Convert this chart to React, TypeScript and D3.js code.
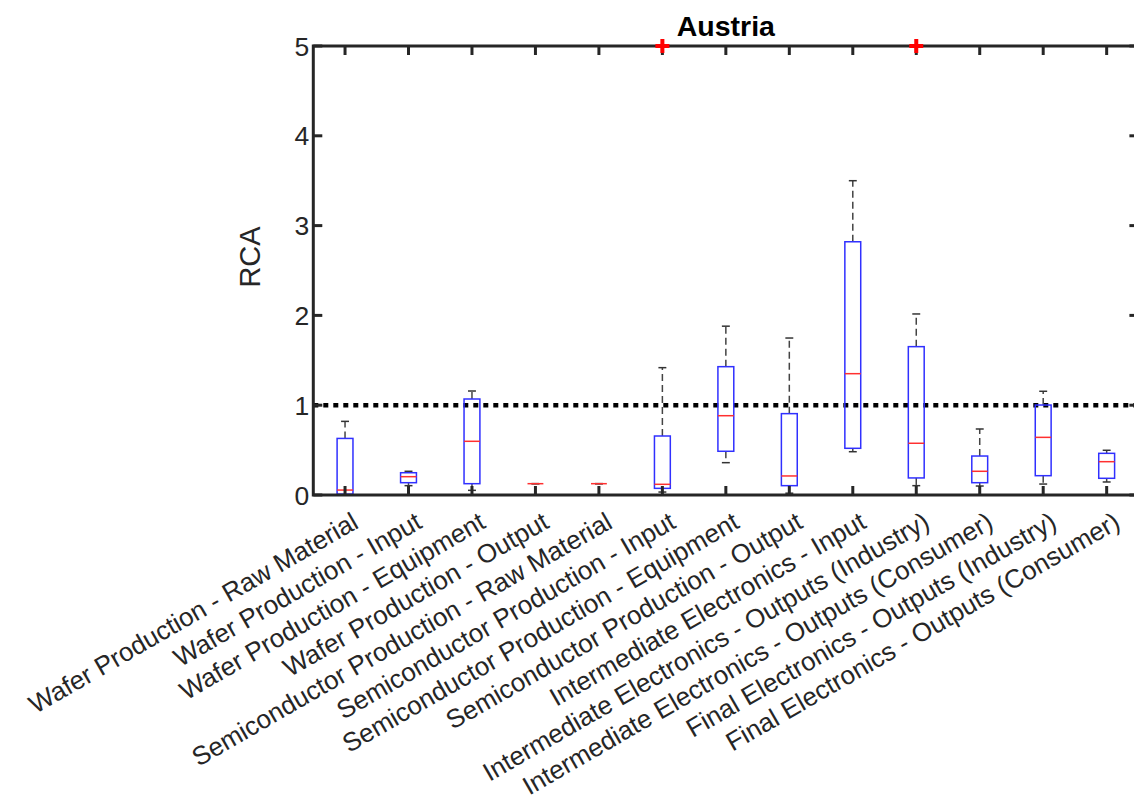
import React from "react";
import * as d3 from "d3";

const categories = [
  "Wafer Production - Raw Material",
  "Wafer Production - Input",
  "Wafer Production - Equipment",
  "Wafer Production - Output",
  "Semiconductor Production - Raw Material",
  "Semiconductor Production - Input",
  "Semiconductor Production - Equipment",
  "Semiconductor Production - Output",
  "Intermediate Electronics - Input",
  "Intermediate Electronics - Outputs (Industry)",
  "Intermediate Electronics - Outputs (Consumer)",
  "Final Electronics - Outputs (Industry)",
  "Final Electronics - Outputs (Consumer)",
];
const lowerWhisker = [0.0, 0.104, 0.052, 0.126, 0.126, 0.033, 0.36, 0.02, 0.482, 0.104, 0.1, 0.122, 0.145];
const q1 = [0.01, 0.137, 0.126, 0.126, 0.126, 0.074, 0.487, 0.104, 0.52, 0.19, 0.137, 0.215, 0.186];
const medians = [0.055, 0.204, 0.598, 0.126, 0.126, 0.119, 0.883, 0.212, 1.351, 0.576, 0.264, 0.642, 0.371];
const q3 = [0.63, 0.248, 1.069, 0.126, 0.126, 0.657, 1.429, 0.906, 2.82, 1.652, 0.434, 1.002, 0.464];
const upperWhisker = [0.82, 0.264, 1.158, 0.126, 0.126, 1.418, 1.88, 1.748, 3.5, 2.016, 0.735, 1.155, 0.498];
const outliers: [number, number][] = [[6, 5], [10, 5]];
const yTicks = [0, 1, 2, 3, 4, 5];
const refLine = 1;
const title = "Austria";
const yLabel = "RCA";

export default function App() {
  const W = 1134, H = 801;
  const x = d3.scaleLinear().domain([0.5, 13.5]).range([313.3, 1138.4]);
  const y = d3.scaleLinear().domain([0, 5]).range([495, 46]);
  const boxW = x(1.25) - x(1);
  const capW = boxW / 2;
  const axisColor = "#262626";
  const font = "'Liberation Sans', Arial, Helvetica, sans-serif";
  const tickLen = 9;
  const idx = d3.range(1, categories.length + 1);

  return (
    <svg width={W} height={H} style={{ position: "absolute", left: 0, top: 0, background: "#fff" }}>
      {/* reference line */}
      <line x1={x(0.5)} x2={x(13.5)} y1={y(refLine)} y2={y(refLine)} stroke="#000" strokeWidth={4.5} strokeDasharray="5 5" />
      {/* boxes */}
      {idx.map((c, i) => {
        const cx = x(c);
        return (
          <g key={c}>
            <line x1={cx} x2={cx} y1={y(q3[i])} y2={y(upperWhisker[i])} stroke="#444" strokeWidth={1.5} strokeDasharray="7 4" />
            <line x1={cx} x2={cx} y1={y(q1[i])} y2={y(lowerWhisker[i])} stroke="#444" strokeWidth={1.5} strokeDasharray="7 4" />
            <line x1={cx - capW / 2} x2={cx + capW / 2} y1={y(upperWhisker[i])} y2={y(upperWhisker[i])} stroke="#333" strokeWidth={1.5} />
            <line x1={cx - capW / 2} x2={cx + capW / 2} y1={y(lowerWhisker[i])} y2={y(lowerWhisker[i])} stroke="#333" strokeWidth={1.5} />
            <rect x={cx - boxW / 2} width={boxW} y={y(q3[i])} height={Math.max(0, y(q1[i]) - y(q3[i]))} fill="none" stroke="#3030ff" strokeWidth={1.5} />
            <line x1={cx - boxW / 2} x2={cx + boxW / 2} y1={y(medians[i])} y2={y(medians[i])} stroke="#ff3030" strokeWidth={1.5} />
          </g>
        );
      })}
      {/* axes box */}
      <rect x={x(0.5)} y={y(5)} width={x(13.5) - x(0.5)} height={y(0) - y(5)} fill="none" stroke={axisColor} strokeWidth={3} />
      {/* x ticks */}
      {idx.map((c) => (
        <g key={"xt" + c}>
          <line x1={x(c)} x2={x(c)} y1={y(0)} y2={y(0) - tickLen} stroke={axisColor} strokeWidth={3} />
          <line x1={x(c)} x2={x(c)} y1={y(5)} y2={y(5) + tickLen} stroke={axisColor} strokeWidth={3} />
        </g>
      ))}
      {/* y ticks */}
      {yTicks.map((t) => (
        <g key={"yt" + t}>
          <line x1={x(0.5)} x2={x(0.5) + tickLen} y1={y(t)} y2={y(t)} stroke={axisColor} strokeWidth={3} />
          <line x1={x(13.5)} x2={x(13.5) - tickLen} y1={y(t)} y2={y(t)} stroke={axisColor} strokeWidth={3} />
          <text x={x(0.5) - 4} y={y(t)} dy="0.36em" textAnchor="end" fontFamily={font} fontSize={26.5} fill="#262626">{t}</text>
        </g>
      ))}
      {/* outliers */}
      {outliers.map(([c, v], k) => (
        <g key={"o" + k} stroke="#ff0000" strokeWidth={4}>
          <line x1={x(c) - 7} x2={x(c) + 7} y1={y(v)} y2={y(v)} />
          <line x1={x(c)} x2={x(c)} y1={y(v) - 7} y2={y(v) + 7} />
        </g>
      ))}
      {/* x labels */}
      {idx.map((c, i) => (
        <text key={"xl" + c} transform={`translate(${x(c) + 15},527) rotate(-30)`} textAnchor="end" fontFamily={font} fontSize={26} fill="#262626">{categories[i]}</text>
      ))}
      {/* y label */}
      <text transform={`translate(260,257) rotate(-90)`} textAnchor="middle" fontFamily={font} fontSize={29} fill="#262626">{yLabel}</text>
      {/* title */}
      <text x={x(7)} y={36} textAnchor="middle" fontFamily={font} fontSize={28.5} fontWeight="bold" fill="#000">{title}</text>
    </svg>
  );
}
